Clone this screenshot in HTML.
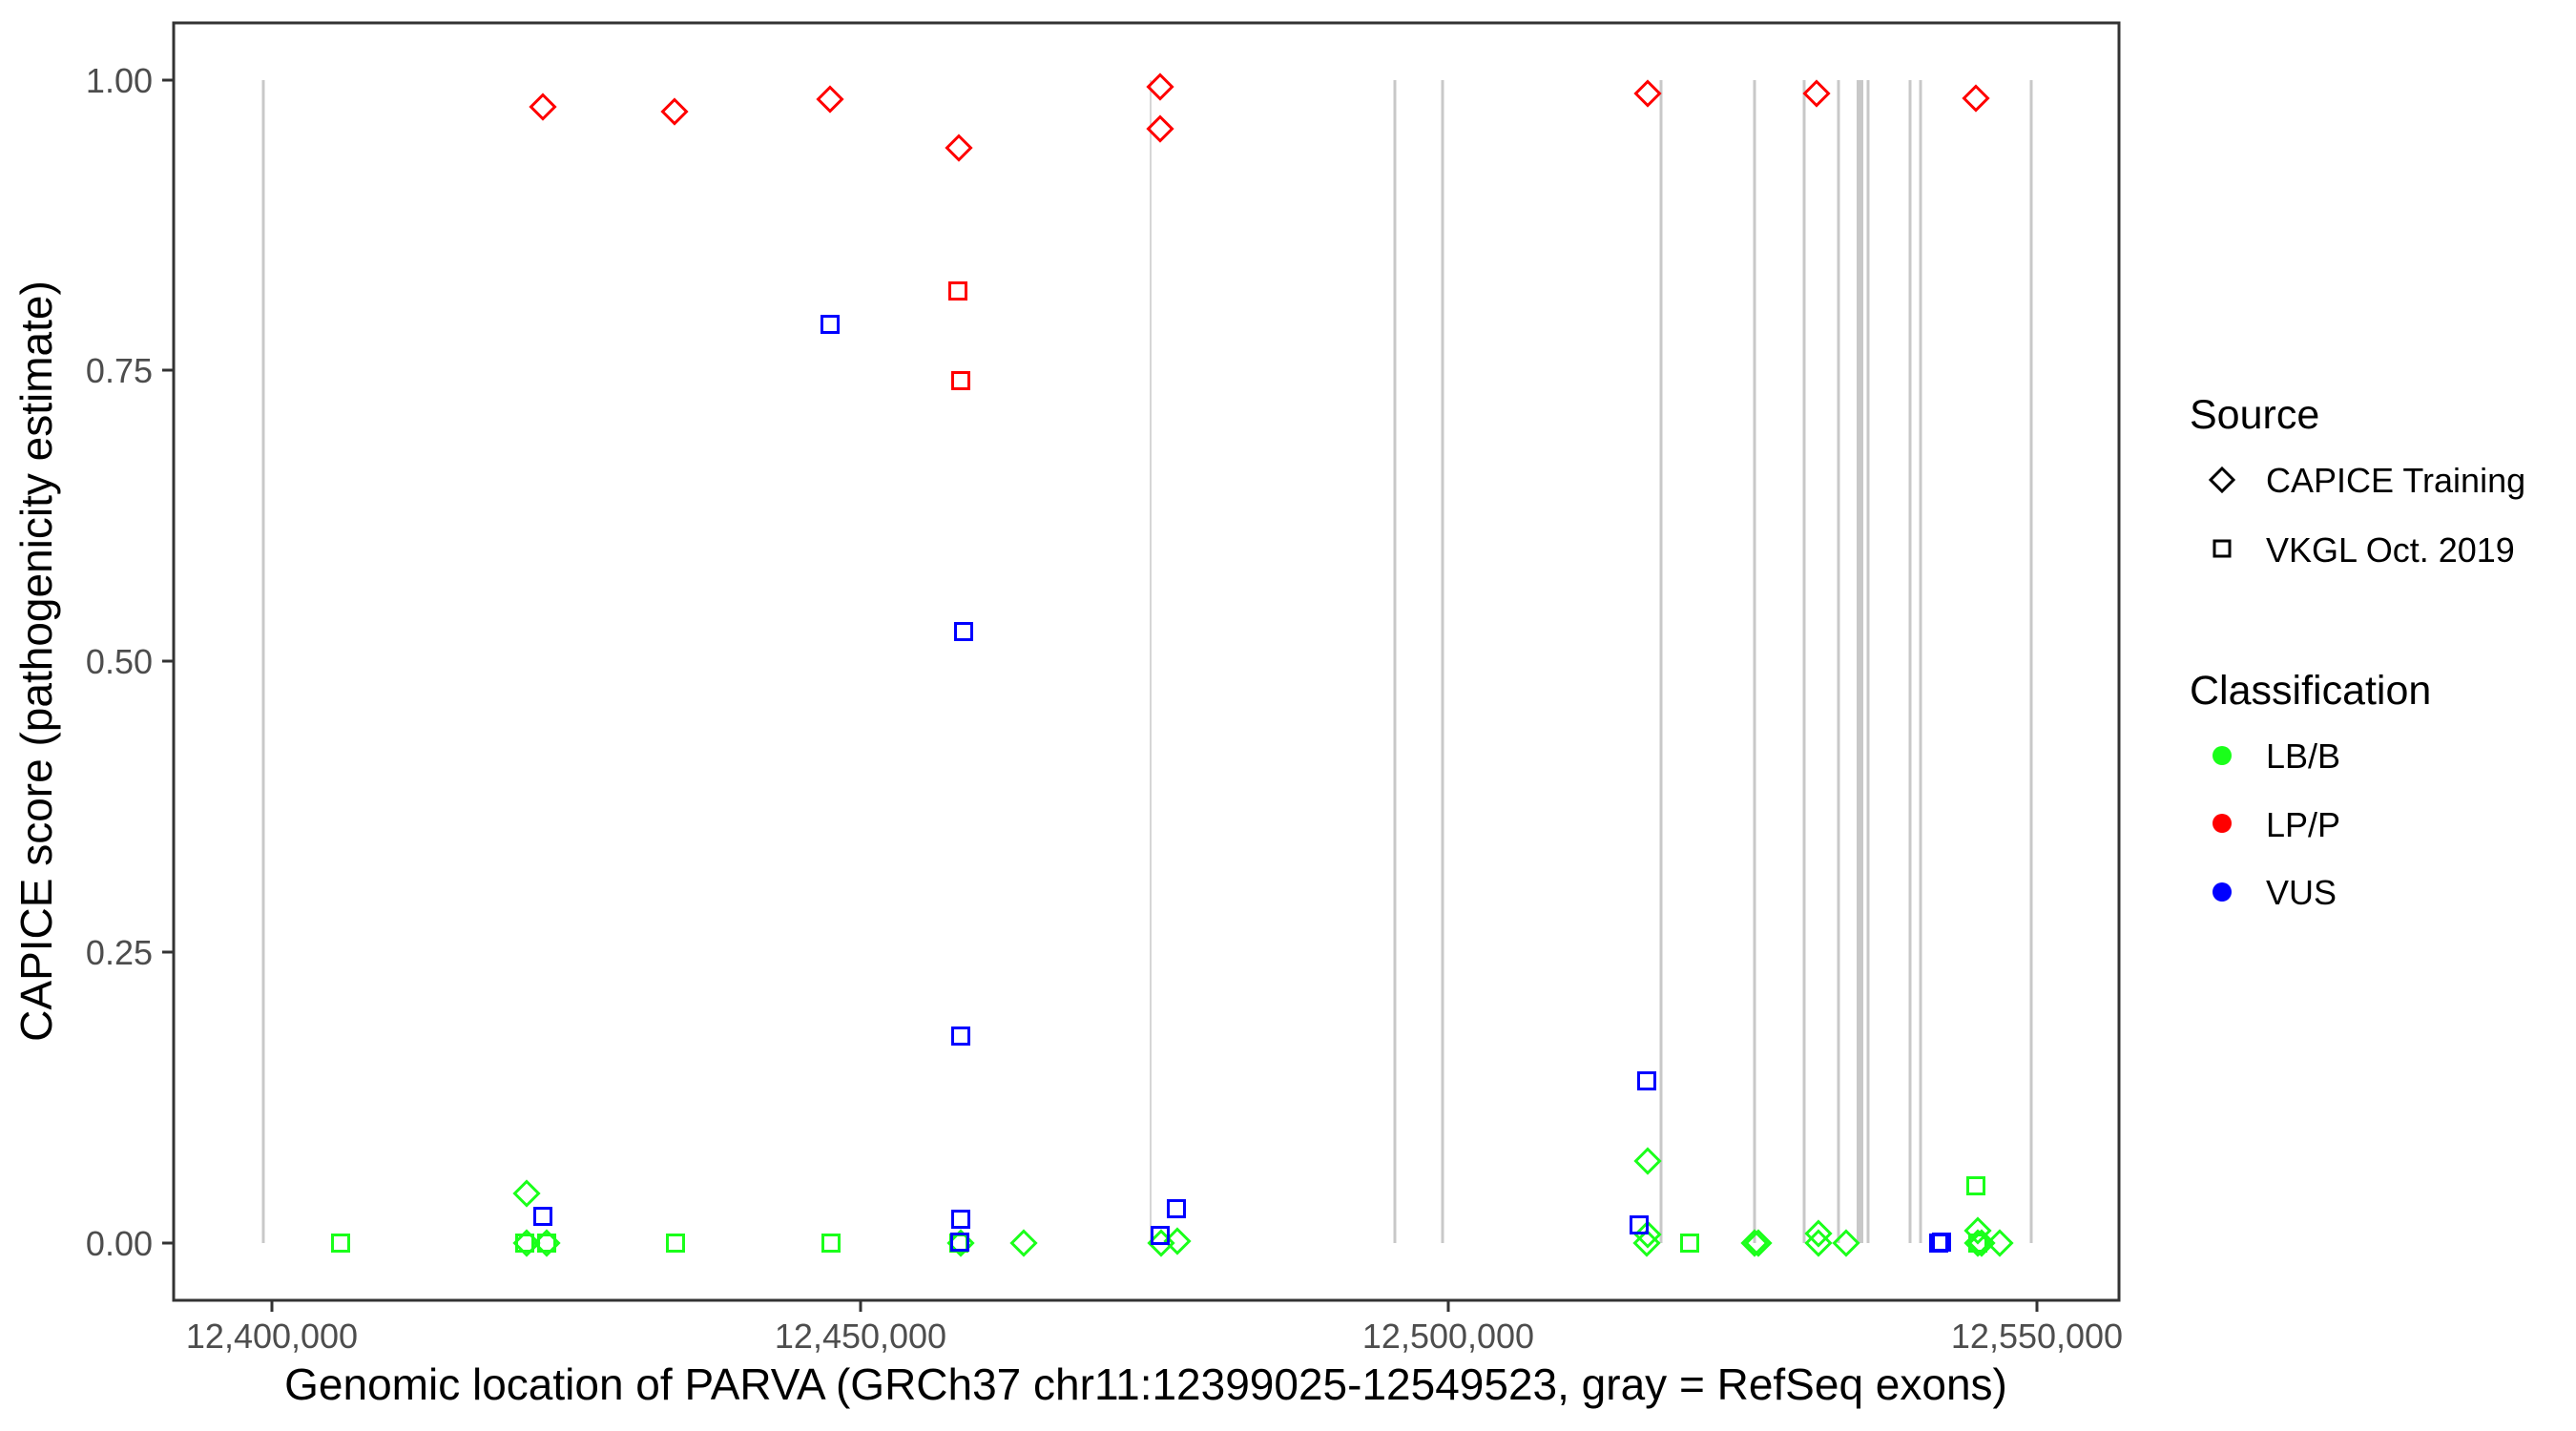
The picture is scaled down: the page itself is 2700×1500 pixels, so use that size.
<!DOCTYPE html>
<html><head><meta charset="utf-8"><style>
html,body{margin:0;padding:0;background:#fff;}
svg{display:block;}
text{font-family:"Liberation Sans",Arial,sans-serif;}
</style></head><body>
<svg width="2700" height="1500" viewBox="0 0 2700 1500" xmlns="http://www.w3.org/2000/svg">
<rect width="2700" height="1500" fill="#fff"/>
<g stroke="#c8c8c8" stroke-width="3">
<line x1="276" y1="84" x2="276" y2="1303"/>
<line x1="1741" y1="84" x2="1741" y2="1303"/>
<line x1="1839" y1="84" x2="1839" y2="1303"/>
<line x1="1891" y1="84" x2="1891" y2="1303"/>
<line x1="1927" y1="84" x2="1927" y2="1303"/>
<line x1="1958" y1="84" x2="1958" y2="1303"/>
<line x1="2002" y1="84" x2="2002" y2="1303"/>
<line x1="2013" y1="84" x2="2013" y2="1303"/>
<line x1="2129" y1="84" x2="2129" y2="1303"/>
<line x1="1462" y1="84" x2="1462" y2="1303"/>
<line x1="1512" y1="84" x2="1512" y2="1303"/>
</g>
<rect x="1946" y="84" width="7" height="1219" fill="#c8c8c8"/>
<line x1="1206" y1="84" x2="1206" y2="1303" stroke="#c8c8c8" stroke-width="1.5"/>
<defs>
<path id="d" d="M0,-12.5 L12.5,0 L0,12.5 L-12.5,0 Z" fill="none" stroke-width="3"/>
<rect id="s" x="-8.5" y="-8.5" width="17" height="17" fill="none" stroke-width="3"/>
</defs>
<g stroke="#1aff1a" fill="none">
<use href="#s" x="357" y="1303"/>
<use href="#s" x="550" y="1303"/>
<use href="#s" x="573" y="1303"/>
<use href="#s" x="708" y="1303"/>
<use href="#s" x="871" y="1303"/>
<use href="#s" x="1005" y="1303"/>
<use href="#s" x="1771" y="1303"/>
<use href="#s" x="2071" y="1243"/>
<use href="#s" x="2073" y="1303"/>
<use href="#d" x="552" y="1251"/>
<use href="#d" x="552" y="1303"/>
<use href="#d" x="573" y="1303"/>
<use href="#d" x="1007" y="1303"/>
<use href="#d" x="1073" y="1303"/>
<use href="#d" x="1217" y="1303"/>
<use href="#d" x="1234" y="1301"/>
<use href="#d" x="1727" y="1217"/>
<use href="#d" x="1727" y="1294"/>
<use href="#d" x="1726" y="1303"/>
<use href="#d" x="1839" y="1303"/>
<use href="#d" x="1843" y="1303"/>
<use href="#d" x="1906" y="1293"/>
<use href="#d" x="1906" y="1303"/>
<use href="#d" x="1935" y="1303"/>
<use href="#d" x="2073" y="1290"/>
<use href="#d" x="2073" y="1303"/>
<use href="#d" x="2077" y="1303"/>
<use href="#d" x="2096" y="1303"/>
</g>
<g stroke="#0000ff" fill="none">
<use href="#s" x="870" y="340"/>
<use href="#s" x="1010" y="662"/>
<use href="#s" x="1007" y="1086"/>
<use href="#s" x="1007" y="1278"/>
<use href="#s" x="1006" y="1302"/>
<use href="#s" x="569" y="1275"/>
<use href="#s" x="1233" y="1267"/>
<use href="#s" x="1216" y="1295"/>
<use href="#s" x="1726" y="1133"/>
<use href="#s" x="1718" y="1284"/>
<use href="#s" x="2032" y="1303"/>
<use href="#s" x="2035" y="1302"/>
</g>
<g stroke="#ff0000" fill="none">
<use href="#d" x="569" y="112"/>
<use href="#d" x="707" y="117"/>
<use href="#d" x="870" y="104"/>
<use href="#d" x="1005" y="155"/>
<use href="#d" x="1216" y="91"/>
<use href="#d" x="1216" y="135"/>
<use href="#d" x="1727" y="98"/>
<use href="#d" x="1904" y="98"/>
<use href="#d" x="2071" y="103"/>
<use href="#s" x="1004" y="305"/>
<use href="#s" x="1007" y="399"/>
</g>
<rect x="182" y="24" width="2039" height="1339" fill="none" stroke="#333" stroke-width="3"/>
<g stroke="#333" stroke-width="3">
<line x1="170" y1="84" x2="182" y2="84"/>
<line x1="170" y1="388" x2="182" y2="388"/>
<line x1="170" y1="693" x2="182" y2="693"/>
<line x1="170" y1="998" x2="182" y2="998"/>
<line x1="170" y1="1303" x2="182" y2="1303"/>
<line x1="285" y1="1363" x2="285" y2="1375"/>
<line x1="902" y1="1363" x2="902" y2="1375"/>
<line x1="1518" y1="1363" x2="1518" y2="1375"/>
<line x1="2135" y1="1363" x2="2135" y2="1375"/>
</g>
<g fill="#4d4d4d" font-size="36" text-anchor="end">
<text x="160" y="97">1.00</text>
<text x="160" y="401">0.75</text>
<text x="160" y="706">0.50</text>
<text x="160" y="1011">0.25</text>
<text x="160" y="1316">0.00</text>
</g>
<g fill="#4d4d4d" font-size="36" text-anchor="middle">
<text x="285" y="1413">12,400,000</text>
<text x="902" y="1413">12,450,000</text>
<text x="1518" y="1413">12,500,000</text>
<text x="2135" y="1413">12,550,000</text>
</g>
<text x="1201" y="1467" font-size="46" text-anchor="middle" fill="#000">Genomic location of PARVA (GRCh37 chr11:12399025-12549523, gray = RefSeq exons)</text>
<text transform="translate(54,693) rotate(-90)" font-size="46" text-anchor="middle" fill="#000">CAPICE score (pathogenicity estimate)</text>
<text x="2295" y="449" font-size="43" fill="#000">Source</text>
<path d="M2329,491 L2341,503 L2329,515 L2317,503 Z" fill="none" stroke="#000" stroke-width="3"/>
<text x="2375" y="516" font-size="36" fill="#000">CAPICE Training</text>
<rect x="2321" y="567" width="16" height="16" fill="none" stroke="#000" stroke-width="3"/>
<text x="2375" y="589" font-size="36" fill="#000">VKGL Oct. 2019</text>
<text x="2295" y="738" font-size="43" fill="#000">Classification</text>
<circle cx="2329" cy="792" r="10" fill="#1aff1a"/>
<text x="2375" y="805" font-size="36" fill="#000">LB/B</text>
<circle cx="2329" cy="863" r="10" fill="#ff0000"/>
<text x="2375" y="877" font-size="36" fill="#000">LP/P</text>
<circle cx="2329" cy="935" r="10" fill="#0000ff"/>
<text x="2375" y="948" font-size="36" fill="#000">VUS</text>
</svg>
</body></html>
